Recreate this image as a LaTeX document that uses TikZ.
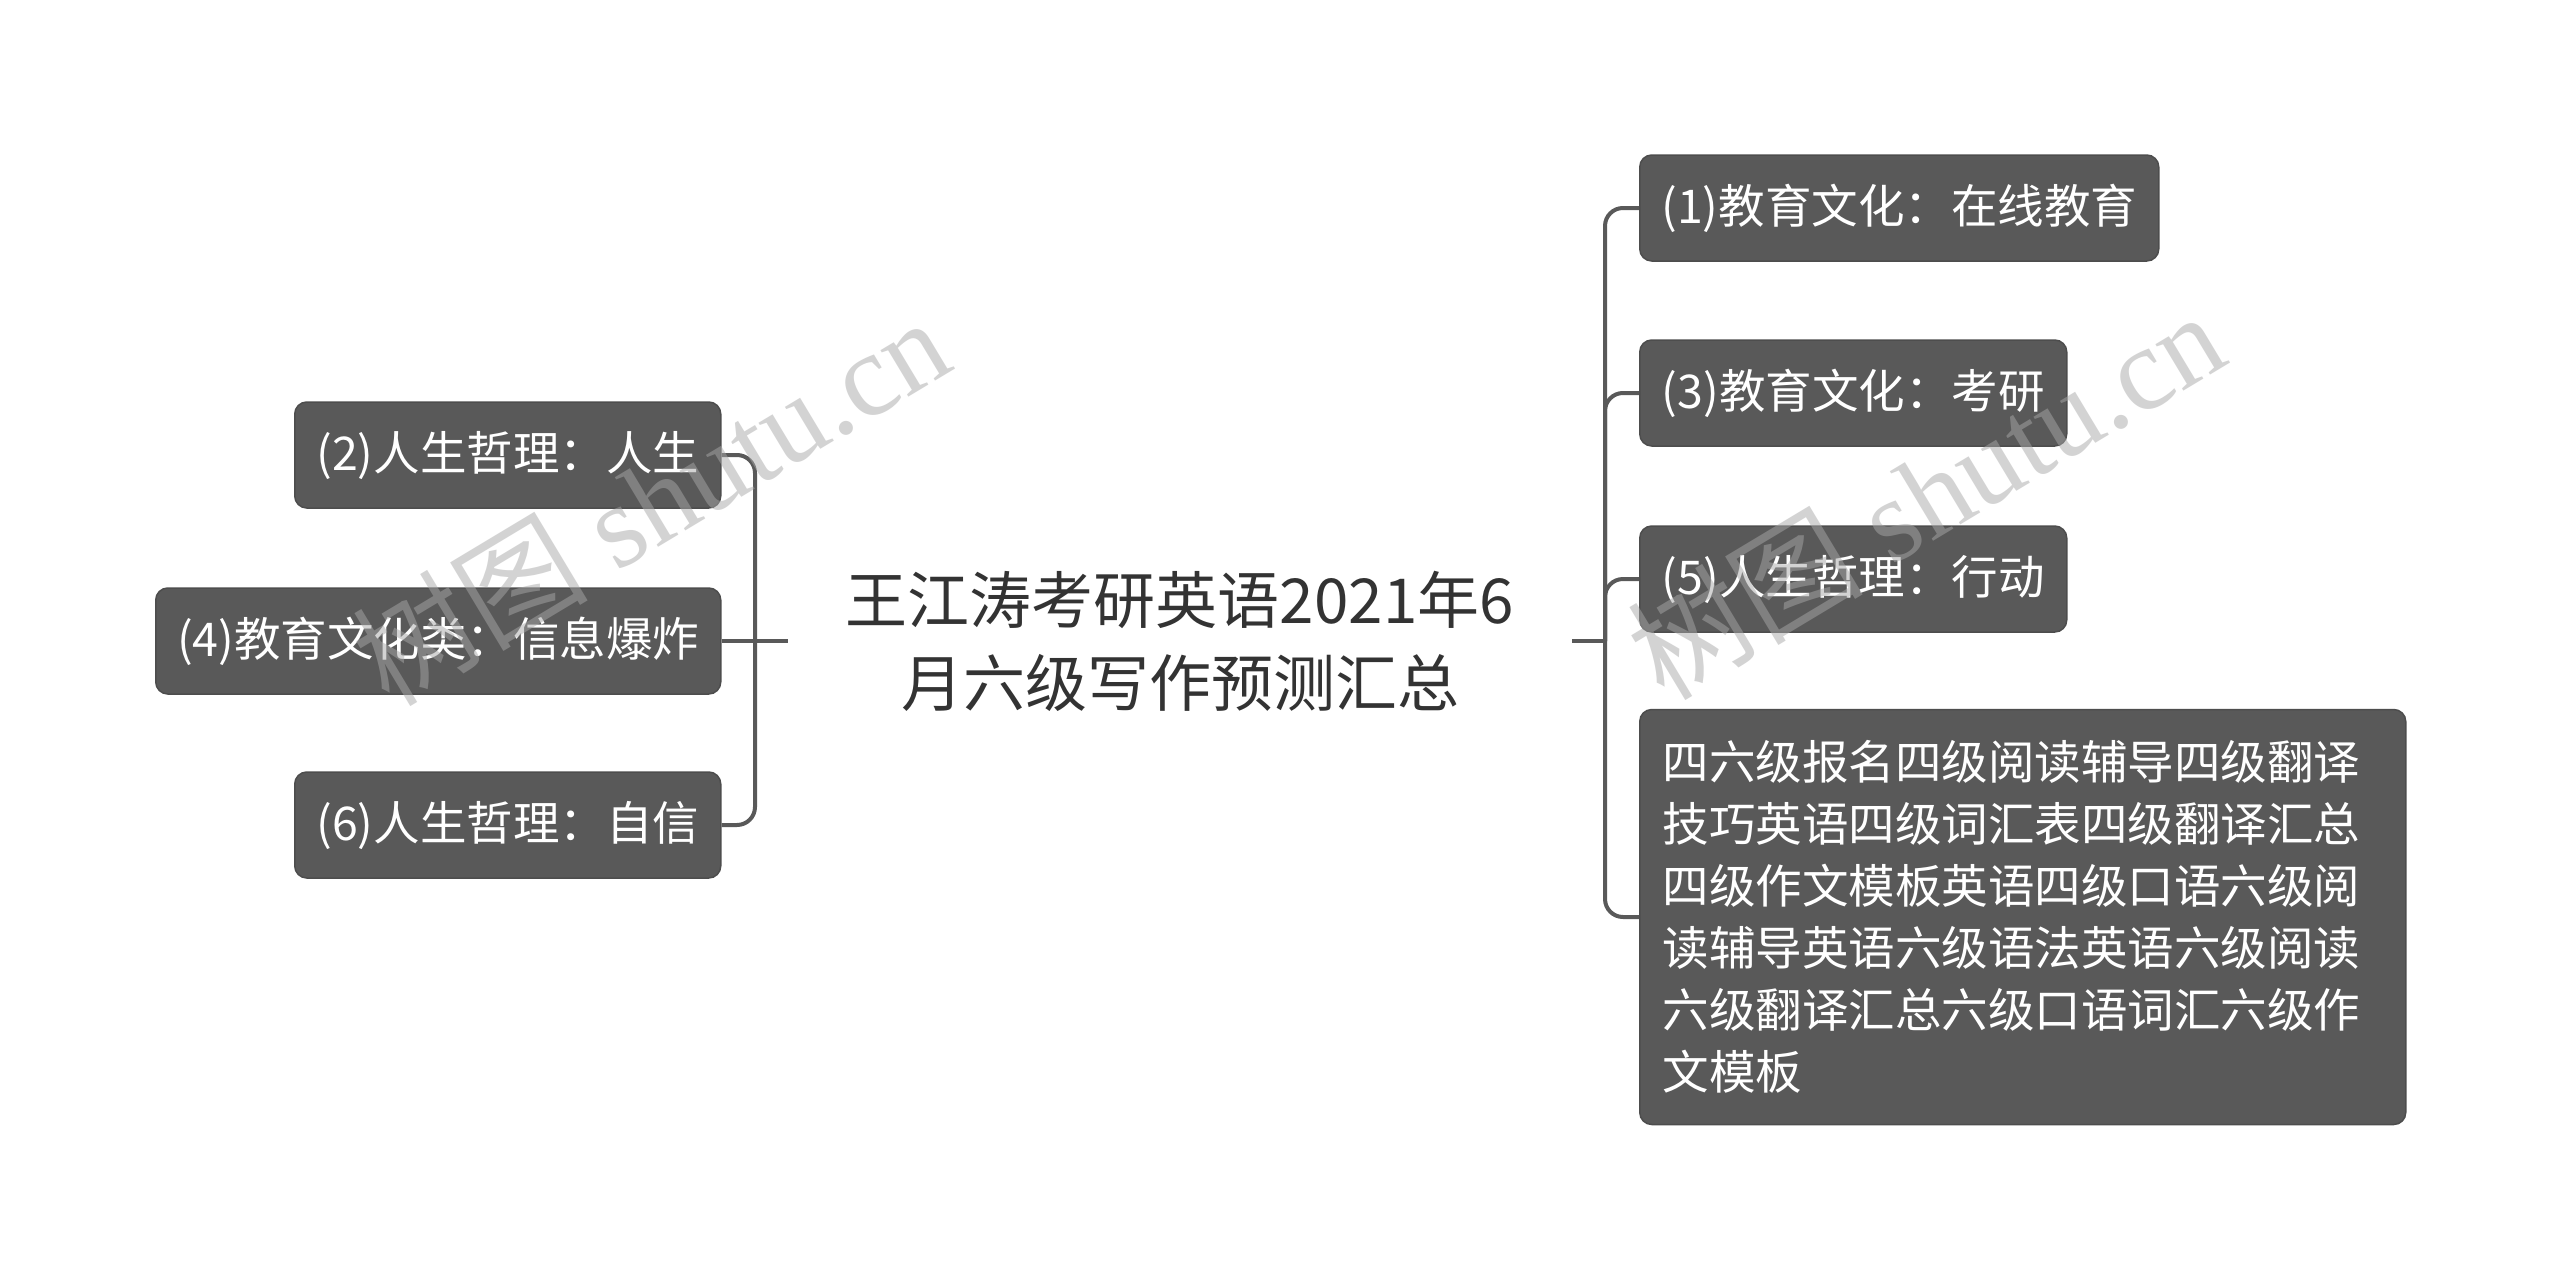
\documentclass[tikz,border=0pt]{standalone}
\usepackage{fontspec}
\setmainfont{Noto Sans CJK SC}
\newfontfamily\wmserif{Liberation Serif}
\newfontfamily\wmcjk{Noto Sans CJK SC}
\definecolor{boxfill}{HTML}{595959}
\definecolor{boxedge}{HTML}{4D4D4D}
\definecolor{linecol}{HTML}{595959}
\definecolor{rootcol}{HTML}{333333}
\definecolor{wmcol}{HTML}{A8A8A8}
\begin{document}
\begin{tikzpicture}[x=1pt,y=-1pt,
  box/.style={draw=boxedge, line width=1.5pt, fill=boxfill, rounded corners=12pt,
    text=white, inner sep=0pt, minimum height=106pt, anchor=west,
    font=\fontsize{46.5pt}{62pt}\selectfont},
  conn/.style={draw=linecol, line width=4pt, rounded corners=18pt},
  roottext/.style={text=rootcol, align=center, inner sep=0pt,
    font=\fontsize{62pt}{83pt}\selectfont},
  wm/.style={text=wmcol, opacity=0.5, rotate=31, inner sep=0pt,
    font=\fontsize{118pt}{118pt}\selectfont}]
\useasboundingbox[fill=white] (0,0) rectangle (2560,1282);

% root
\node[roottext] (root) at (1180,641) {王江涛考研英语2021年6\\月六级写作预测汇总};

% left children
\node[box, minimum width=426pt] (b2) at (294,455) {(2)人生哲理：人生};
\node[box, minimum width=565pt] (b4) at (155,641) {(4)教育文化类：信息爆炸};
\node[box, minimum width=426pt] (b6) at (294,825) {(6)人生哲理：自信};

% right children
\node[box, minimum width=519pt] (r1) at (1639,208) {(1)教育文化：在线教育};
\node[box, minimum width=427pt] (r3) at (1639,393) {(3)教育文化：考研};
\node[box, minimum width=427pt] (r5) at (1639,579) {(5)人生哲理：行动};
\node[box, minimum width=766pt, minimum height=415pt, text width=720pt, align=left] (r7) at (1639,917)
  {四六级报名四级阅读辅导四级翻译\\技巧英语四级词汇表四级翻译汇总\\四级作文模板英语四级口语六级阅\\读辅导英语六级语法英语六级阅读\\六级翻译汇总六级口语词汇六级作\\文模板};

% connector points
\coordinate (Lx) at (755,641);
\coordinate (Ls) at (788,641);
\coordinate (Rx) at (1605,641);
\coordinate (Rs) at (1572,641);

% left connectors
\draw[conn] (b2.east) -| (Lx);
\draw[conn] (b6.east) -| (Lx);
\draw[conn] (b4.east) -- (Ls);

% right connectors
\draw[conn] (Rs) -- (Rx);
\draw[conn] (Rx) |- (r1.west);
\draw[conn] (Rx) |- (r3.west);
\draw[conn] (Rx) |- (r5.west);
\draw[conn] (Rx) |- (r7.west);

% watermarks
\node[wm] (wm1) at (650,500) {\wmcjk 树图\hspace{0.25em}\wmserif shutu.cn};
\node[wm] (wm2) at (1925,494) {\wmcjk 树图\hspace{0.25em}\wmserif shutu.cn};
\end{tikzpicture}
\end{document}
